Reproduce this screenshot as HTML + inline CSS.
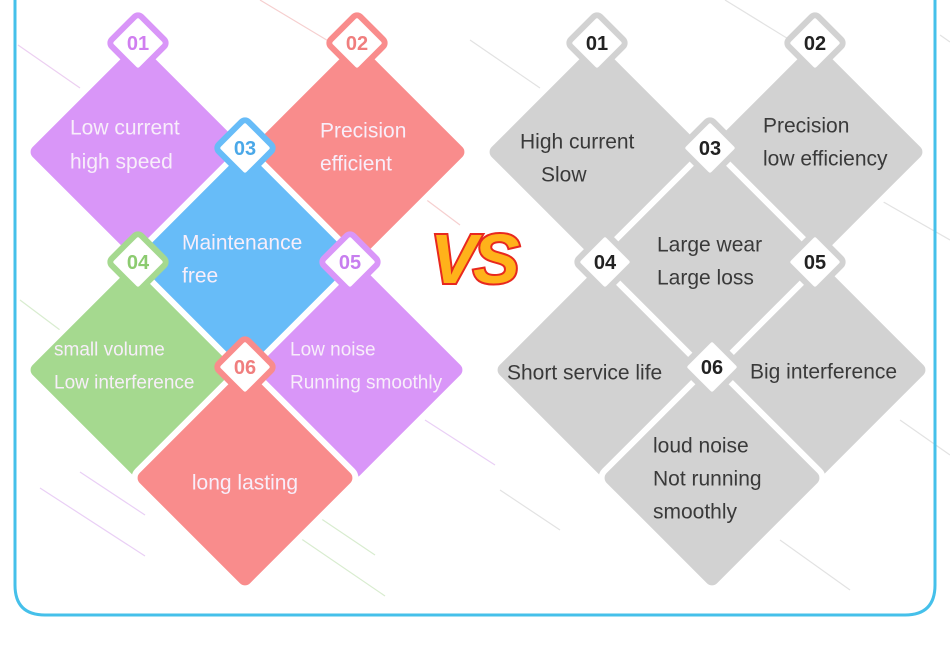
<!DOCTYPE html>
<html><head><meta charset="utf-8"><style>
html,body{margin:0;padding:0;background:#fff;width:950px;height:649px;overflow:hidden}
svg{display:block}
text{font-family:"Liberation Sans",sans-serif}
</style></head><body>
<svg width="950" height="649" viewBox="0 0 950 649" xmlns="http://www.w3.org/2000/svg">
<defs>
<rect id="dm" x="-81" y="-81" width="162" height="162" rx="10" transform="rotate(45)"/>
<rect id="bd" x="-21" y="-21" width="42" height="42" rx="5" transform="rotate(45)"/>
</defs>
<!-- background lines -->
<g stroke-width="1.2" opacity="0.6">
<line x1="18" y1="45" x2="80" y2="88" stroke="#e0b0e8"/>
<line x1="260" y1="0" x2="330" y2="42" stroke="#f0b0b0"/>
<line x1="420" y1="195" x2="460" y2="225" stroke="#f0b0b0"/>
<line x1="40" y1="488" x2="145" y2="556" stroke="#dcb0f0"/>
<line x1="80" y1="472" x2="145" y2="515" stroke="#dcb0f0"/>
<line x1="300" y1="538" x2="385" y2="596" stroke="#bfe0b0"/>
<line x1="320" y1="518" x2="375" y2="555" stroke="#bfe0b0"/>
<line x1="425" y1="420" x2="495" y2="465" stroke="#dcb0f0"/>
<line x1="20" y1="300" x2="60" y2="330" stroke="#bfe0b0"/>
<line x1="470" y1="40" x2="540" y2="88" stroke="#d0d0d0"/>
<line x1="725" y1="0" x2="790" y2="40" stroke="#d0d0d0"/>
<line x1="880" y1="200" x2="950" y2="240" stroke="#d0d0d0"/>
<line x1="900" y1="420" x2="950" y2="455" stroke="#d0d0d0"/>
<line x1="500" y1="490" x2="560" y2="530" stroke="#d0d0d0"/>
<line x1="780" y1="540" x2="850" y2="590" stroke="#d0d0d0"/>
<line x1="940" y1="35" x2="950" y2="42" stroke="#d0d0d0"/>
</g>
<!-- frame -->
<path d="M15,-5 L15,585 Q15,615 45,615 L905,615 Q935,615 935,585 L935,-5" fill="none" stroke="#45c0ea" stroke-width="3"/>

<!-- LEFT diamonds -->
<g stroke="#fff" stroke-width="6">
<use href="#dm" x="138" y="152" fill="#d996f8"/>
<use href="#dm" x="357" y="152" fill="#f98c8c"/>
<use href="#dm" x="138" y="370" fill="#a5d98f"/>
<use href="#dm" x="355" y="370" fill="#d996f8"/>
<use href="#dm" x="245" y="260" fill="#67bcf8"/>
<use href="#dm" x="245" y="478" fill="#f98c8c"/>
</g>
<!-- RIGHT diamonds -->
<g stroke="#fff" stroke-width="6" fill="#d2d2d2">
<use href="#dm" x="597" y="152"/>
<use href="#dm" x="815" y="152"/>
<use href="#dm" x="605" y="370"/>
<use href="#dm" x="818" y="370"/>
<use href="#dm" x="710" y="260"/>
<use href="#dm" x="712" y="478"/>
</g>

<!-- badges -->
<g stroke-width="6" fill="#fff">
<use href="#bd" x="138" y="43" stroke="#d996f8"/>
<use href="#bd" x="357" y="43" stroke="#f98c8c"/>
<use href="#bd" x="245" y="148" stroke="#67bcf8"/>
<use href="#bd" x="138" y="262" stroke="#a5d98f"/>
<use href="#bd" x="350" y="262" stroke="#d996f8"/>
<use href="#bd" x="245" y="367" stroke="#f98c8c"/>
<g stroke="#d2d2d2">
<use href="#bd" x="597" y="43"/>
<use href="#bd" x="815" y="43"/>
<use href="#bd" x="710" y="148"/>
<use href="#bd" x="605" y="262"/>
<use href="#bd" x="815" y="262"/>
<use href="#bd" x="712" y="367"/>
</g>
</g>
<g font-size="20" font-weight="bold" text-anchor="middle" dominant-baseline="central">
<text x="138" y="44" fill="#d07ef0">01</text>
<text x="357" y="44" fill="#f07e7e">02</text>
<text x="245" y="149" fill="#4aa8e8">03</text>
<text x="138" y="263" fill="#8ccb70">04</text>
<text x="350" y="263" fill="#c77eef">05</text>
<text x="245" y="368" fill="#f07e7e">06</text>
<g fill="#222">
<text x="597" y="44">01</text>
<text x="815" y="44">02</text>
<text x="710" y="149">03</text>
<text x="605" y="263">04</text>
<text x="815" y="263">05</text>
<text x="712" y="368">06</text>
</g>
</g>

<!-- left texts -->
<g fill="#f8eefa" font-size="21" dominant-baseline="central">
<text x="70" y="128">Low current</text>
<text x="70" y="162">high speed</text>
<text x="320" y="131">Precision</text>
<text x="320" y="164">efficient</text>
<text x="182" y="243">Maintenance</text>
<text x="182" y="276">free</text>
<text x="54" y="350" font-size="19">small volume</text>
<text x="54" y="383" font-size="19">Low interference</text>
<text x="290" y="350" font-size="19">Low noise</text>
<text x="290" y="383" font-size="19">Running smoothly</text>
<text x="245" y="483" text-anchor="middle">long lasting</text>
</g>
<!-- right texts -->
<g fill="#3a3a3a" font-size="21" dominant-baseline="central">
<text x="520" y="142">High current</text>
<text x="541" y="175">Slow</text>
<text x="763" y="126">Precision</text>
<text x="763" y="159">low efficiency</text>
<text x="657" y="245">Large wear</text>
<text x="657" y="278">Large loss</text>
<text x="507" y="373">Short service life</text>
<text x="750" y="372">Big interference</text>
<text x="653" y="446">loud noise</text>
<text x="653" y="479">Not running</text>
<text x="653" y="512">smoothly</text>
</g>

<!-- VS -->
<text x="473" y="283" text-anchor="middle" font-size="70" font-weight="bold" font-style="italic" fill="#ffb21a" stroke="#e8281e" stroke-width="4" paint-order="stroke" letter-spacing="-4">VS</text>
</svg>
</body></html>
